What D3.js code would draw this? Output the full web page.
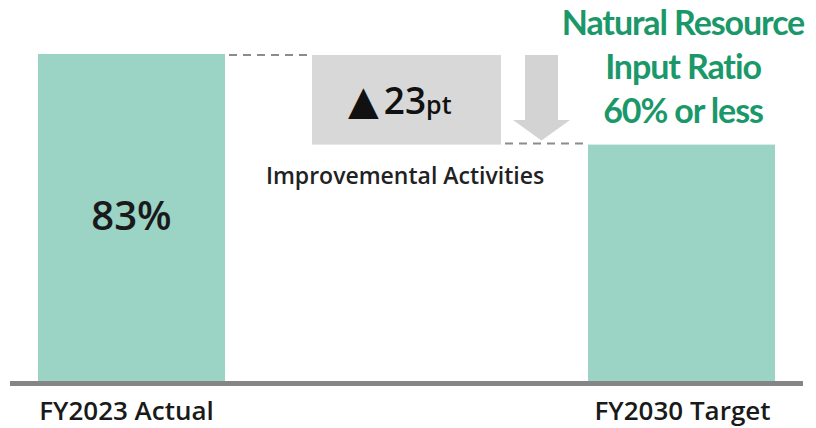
<!DOCTYPE html>
<html><head><meta charset="utf-8">
<script src="https://cdn.jsdelivr.net/npm/d3@7"></script>
<style>html,body{margin:0;padding:0;background:#fff;}svg{display:block;}</style>
</head><body><svg id="c" width="816" height="428"></svg>
<script>
const categories = ["FY2023 Actual", "FY2030 Target"];
const values = [83, 60];
const valueLabels = ["83%", ""];
const changeLabel = "23";
const changeUnit = "pt";
const activityLabel = "Improvemental Activities";
const titleLines = ["Natural Resource", "Input Ratio", "60% or less"];

const svg = d3.select("#c");
const x = d3.scaleBand().domain(categories).range([38, 775]).paddingInner(0.66).paddingOuter(0);
const y = d3.scaleLinear().domain([0, 100]).range([381, -13]);

const barColor = "#9bd3c4";
// bars
svg.selectAll("rect.bar").data(values).join("rect").attr("class", "bar")
  .attr("x", (d, i) => x(categories[i])).attr("width", x.bandwidth())
  .attr("y", d => y(d)).attr("height", d => y(0) - y(d)).attr("fill", barColor);

// baseline axis
svg.append("rect").attr("x", 10).attr("width", 793).attr("y", y(0)).attr("height", 5).attr("fill", "#858585");

// category labels
svg.selectAll("text.cat").data(categories).join("text").attr("class", "cat")
  .attr("x", (d, i) => x(d) + x.bandwidth() / 2 + (i === 0 ? -5 : 1)).attr("y", 420)
  .attr("text-anchor", "middle").attr("font-family", "Open Sans").attr("font-weight", 600)
  .attr("font-size", 26).attr("fill", "#1a1a1a").text(d => d);

// value label
svg.selectAll("text.val").data(valueLabels).join("text").attr("class", "val")
  .attr("x", (d, i) => x(categories[i]) + x.bandwidth() / 2).attr("y", 230)
  .attr("text-anchor", "middle").attr("font-family", "Open Sans").attr("font-weight", 600)
  .attr("font-size", 40).attr("fill", "#1a1a1a").text(d => d);

const yTop = y(values[0]), yBot = y(values[1]);
// dashed connectors
const dashStyle = s => s.attr("stroke", "#8c8c8c").attr("stroke-width", 2).attr("stroke-dasharray", "8,6");
svg.append("line").attr("x1", 229).attr("x2", 308).attr("y1", yTop + 1).attr("y2", yTop + 1).call(dashStyle);
svg.append("line").attr("x1", 505).attr("x2", 584).attr("y1", yBot - 1).attr("y2", yBot - 1).call(dashStyle);

// gray box
svg.append("rect").attr("x", 312).attr("width", 189).attr("y", yTop + 1).attr("height", yBot - yTop - 1).attr("fill", "#d8d8d8");

// arrow
const ax0 = 525, ax1 = 558, hx0 = 513, hx1 = 570, hy = 120, tipY = yBot - 4;
svg.append("path").attr("fill", "#d3d3d3")
  .attr("d", `M${ax0},${yTop + 1}L${ax1},${yTop + 1}L${ax1},${hy}L${hx1},${hy}L${(hx0 + hx1) / 2},${tipY}L${hx0},${hy}L${ax0},${hy}Z`);

// change label
const t = svg.append("text").attr("x", 348).attr("y", 114).attr("fill", "#111");
t.append("tspan").attr("font-family", "DejaVu Sans").attr("font-size", 40).text("▲");
t.append("tspan").attr("font-family", "Open Sans").attr("font-weight", 600).attr("font-size", 37).attr("dx", 5).text(changeLabel);
t.append("tspan").attr("font-family", "Open Sans").attr("font-weight", 600).attr("font-size", 25).text(changeUnit);

svg.append("text").attr("x", 405).attr("y", 184).attr("text-anchor", "middle")
  .attr("font-family", "Open Sans").attr("font-weight", 600).attr("font-size", 23).attr("fill", "#222").text(activityLabel);

// title
svg.selectAll("text.title").data(titleLines).join("text").attr("class", "title")
  .attr("x", 683).attr("y", (d, i) => 35 + i * 44).attr("text-anchor", "middle")
  .attr("font-family", "Lato").attr("font-weight", 700).attr("font-size", 34)
  .attr("letter-spacing", -1.1).attr("fill", "#1b986a").text(d => d);
</script></body></html>
